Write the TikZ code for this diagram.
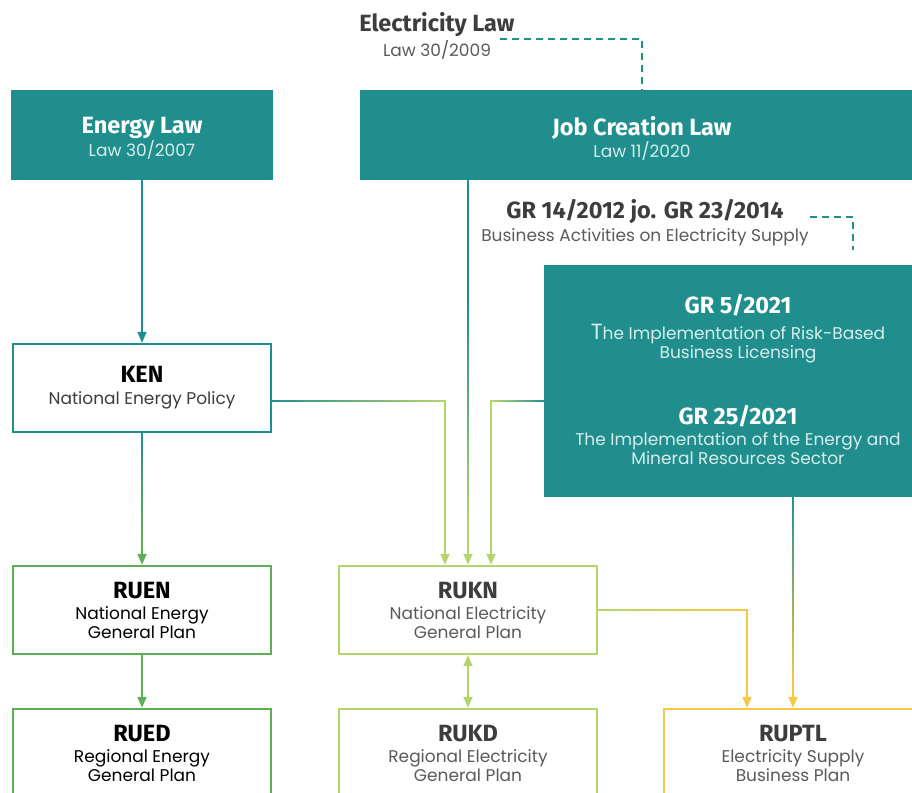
\documentclass[tikz,border=0pt]{standalone}
\usepackage{fontspec}
\setmainfont{Poppins}
\newfontfamily\headfont{Fira Sans}
\usetikzlibrary{arrows.meta,calc}

\definecolor{lawteal}{HTML}{218E8E}
\definecolor{plangreen}{HTML}{5DAE57}
\definecolor{elecgreen}{HTML}{B3D56B}
\definecolor{supplyyellow}{HTML}{F6C945}
\definecolor{titlegray}{HTML}{3D3D3D}
\definecolor{subgray}{HTML}{5A5A5A}
\definecolor{paleteal}{HTML}{D6EDED}

\newcommand\head[1]{{\headfont\bfseries\fontsize{23.5}{24}\selectfont #1}}
\newcommand\subt[1]{{\fontsize{17}{19}\selectfont #1}}

% gradient line: from, to, start colour, end colour
\newcommand\fadeline[4]{%
  \foreach \k in {1,...,24} {
    \pgfmathsetmacro\pa{(\k-1)/24}
    \pgfmathsetmacro\pb{\k/24}
    \pgfmathtruncatemacro\mix{100*\k/24}
    \draw[line width=1.8, line cap=rect, #4!\mix!#3] ($(#1)!\pa!(#2)$) -- ($(#1)!\pb!(#2)$);
  }}

\tikzset{
  lawbox/.style={fill=lawteal, text=white, minimum height=90, align=center, inner sep=0pt,
    font=\fontsize{17}{19}\selectfont},
  planbox/.style={draw=#1, line width=2.4, fill=white, minimum width=258, minimum height=88,
    align=center, inner sep=0pt, font=\fontsize{17}{19}\selectfont},
  label/.style={align=center, inner sep=0pt, font=\fontsize{17}{19}\selectfont},
  link/.style={draw=#1, line width=1.8, -{Triangle[length=11,width=9]}},
  dashlink/.style={draw=lawteal, line width=2.4, dash pattern=on 7 off 5},
}

\begin{document}
\begin{tikzpicture}[x=1pt,y=-1pt]
\useasboundingbox (0,0) rectangle (912,792);
\clip (0,0) rectangle (912,792);

% laws
\node[lawbox, minimum width=262] (energy) at (142,135) {};
\node[label, text=white] (energytext) at (142,138) {\head{Energy Law}\\[1pt]\color{paleteal}Law 30/2007};
\node[lawbox, minimum width=564] (jobs) at (642,135) {};
\node[label, text=white] (jobstext) at (642,138) {\head{Job Creation Law}\\[1pt]\color{paleteal}Law 11/2020};
\node[label, text=titlegray] (elecname) at (437,25) {\head{Electricity Law}};
\node[label, text=subgray] (eleclaw) at (437,50) {\subt{Law 30/2009}};
\node[label, text=titlegray] (gr14) at (645,212) {\head{GR 14/2012 jo. GR 23/2014}};
\node[label, text=subgray] (gr14sub) at (645,237) {\subt{Business Activities on Electricity Supply}};

% regulations
\node[lawbox, minimum width=388, minimum height=232] (regs) at (738,381) {};
\node[label, text=white] (gr5) at (738,329)
  {\head{GR 5/2021}\\[7pt]\color{paleteal}{\fontsize{22}{19}\selectfont T}he Implementation of Risk-Based\\\color{paleteal}Business Licensing};
\node[label, text=white] (gr25) at (738,435)
  {\head{GR 25/2021}\\[2pt]\color{paleteal}The Implementation of the Energy and\\\color{paleteal}Mineral Resources Sector};

% plans
\node[planbox=lawteal] (KEN) at (142,388) {\head{KEN}\\[3pt]\color{titlegray}National Energy Policy};
\node[planbox=plangreen] (RUEN) at (142,610) {\head{RUEN}\\[2pt]National Energy\\General Plan};
\node[planbox=plangreen] (RUED) at (142,753) {\head{RUED}\\[2pt]Regional Energy\\General Plan};
\node[planbox=elecgreen, text=subgray] (RUKN) at (468,610) {\color{titlegray}\head{RUKN}\\[2pt]National Electricity\\General Plan};
\node[planbox=elecgreen, text=subgray] (RUKD) at (468,753) {\color{titlegray}\head{RUKD}\\[2pt]Regional Electricity\\General Plan};
\node[planbox=supplyyellow, text=subgray] (RUPTL) at (793,753) {\color{titlegray}\head{RUPTL}\\[2pt]Electricity Supply\\Business Plan};

% dashed references
\coordinate (elecdash) at (500,39);
\draw[dashlink] (elecdash) -| (jobs.north);
\coordinate (grdash) at (810,217);
\coordinate (grdashend) at (853,250);
\draw[dashlink] (grdash) -| (grdashend);

% energy column
\draw[link=lawteal] (energy) -- (KEN);
\coordinate (kenlow) at (142,535);
\fadeline{KEN.south}{kenlow}{lawteal}{plangreen}
\draw[link=plangreen] (kenlow) -- (RUEN.north);
\draw[link=plangreen] (RUEN) -- (RUED);

% into RUKN
\coordinate (kenturn) at (445,401);
\fadeline{KEN.east |- kenturn}{kenturn}{lawteal}{elecgreen}
\draw[link=elecgreen] (kenturn) -- (kenturn |- RUKN.north);

\coordinate (jobsfoot) at (jobs.south -| RUKN.north);
\coordinate (jobsmid) at (468,310);
\coordinate (jobslow) at (468,530);
\draw[lawteal, line width=1.8] (jobsfoot) -- (jobsmid);
\fadeline{jobsmid}{jobslow}{lawteal}{elecgreen}
\draw[link=elecgreen] (jobslow) -- (RUKN.north);

\coordinate (grturn) at (491,401);
\fadeline{regs.west |- grturn}{grturn}{lawteal}{elecgreen}
\draw[link=elecgreen] (grturn) -- (grturn |- RUKN.north);

\draw[link=elecgreen, {Triangle[length=11,width=9]}-{Triangle[length=11,width=9]}] (RUKN) -- (RUKD);

% into RUPTL
\coordinate (ruknturn) at (747,610);
\fadeline{RUKN.east}{ruknturn}{elecgreen}{supplyyellow}
\draw[link=supplyyellow] (ruknturn) -- (ruknturn |- RUPTL.north);

\coordinate (regsfoot) at (regs.south -| RUPTL.north);
\coordinate (regslow) at (793,690);
\fadeline{regsfoot}{regslow}{lawteal}{supplyyellow}
\draw[link=supplyyellow] (regslow) -- (RUPTL.north);

\end{tikzpicture}
\end{document}
